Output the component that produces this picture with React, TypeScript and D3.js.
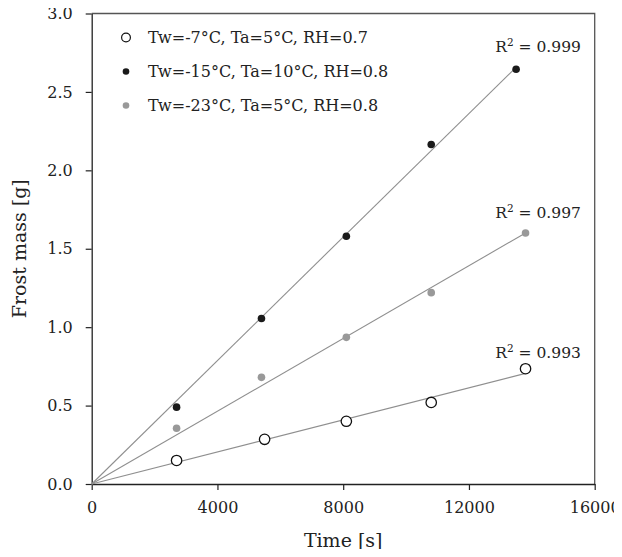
import { useEffect, useRef } from "react";
import * as d3 from "d3";

// time [s] and frost mass [g] per test
const timeOpen = [2700, 5500, 8100, 10800, 13800];
const massOpen = [0.15, 0.285, 0.4, 0.52, 0.735];
const timeBlack = [2700, 5400, 8100, 10800, 13500];
const massBlack = [0.49, 1.055, 1.58, 2.165, 2.645];
const timeGray = [2700, 5400, 8100, 10800, 13800];
const massGray = [0.355, 0.68, 0.935, 1.22, 1.6];

const legendLabels = [
  "Tw=-7°C, Ta=5°C, RH=0.7",
  "Tw=-15°C, Ta=10°C, RH=0.8",
  "Tw=-23°C, Ta=5°C, RH=0.8",
];
const r2Labels = ["0.993", "0.999", "0.997"];
const xTicks = [0, 4000, 8000, 12000, 16000];
const yTicks = [0, 0.5, 1, 1.5, 2, 2.5, 3];

const FONT = "'DejaVu Serif', serif";

const App = () => {
  const svgRef = useRef<SVGSVGElement>(null);

  useEffect(() => {
    const w = 622;
    const h = 557;
    const m = { left: 91.7, right: 27.3, top: 13.5, bottom: 73 };
    const svg = d3.select(svgRef.current);
    svg.selectAll("*").remove();
    svg.attr("width", w).attr("height", h).style("background", "#fff");

    const x = d3.scaleLinear().domain([0, 16000]).range([m.left, w - m.right]);
    const y = d3.scaleLinear().domain([0, 3]).range([h - m.bottom, m.top]);

    // top and right frame
    svg
      .append("path")
      .attr("d", `M${x(0)},${y(3)}H${x(16000)}V${y(0)}`)
      .attr("fill", "none")
      .attr("stroke", "#555")
      .attr("stroke-width", 1.3);

    const xAxis = svg
      .append("g")
      .attr("transform", `translate(0,${y(0)})`)
      .call(d3.axisBottom(x).tickValues(xTicks).tickSize(6).tickSizeOuter(0).tickPadding(12).tickFormat(d3.format("d")));
    const yAxis = svg
      .append("g")
      .attr("transform", `translate(${x(0)},0)`)
      .call(d3.axisLeft(y).tickValues(yTicks).tickSize(6).tickSizeOuter(0).tickPadding(13).tickFormat(d3.format(".1f")));
    [xAxis, yAxis].forEach((g) => {
      g.select(".domain").attr("stroke", "#222").attr("stroke-width", 1.3);
      g.selectAll(".tick line").attr("stroke", "#222").attr("stroke-width", 1.2);
      g.selectAll(".tick text")
        .attr("font-family", FONT)
        .attr("font-size", 16)
        .attr("fill", "#222");
    });

    svg
      .append("text")
      .attr("x", (x(0) + x(16000)) / 2)
      .attr("y", 547)
      .attr("text-anchor", "middle")
      .attr("font-family", FONT)
      .attr("font-size", 19)
      .attr("fill", "#222")
      .text("Time [s]");
    svg
      .append("text")
      .attr("transform", `translate(26,${(y(0) + y(3)) / 2}) rotate(-90)`)
      .attr("text-anchor", "middle")
      .attr("font-family", FONT)
      .attr("font-size", 19)
      .attr("fill", "#222")
      .text("Frost mass [g]");

    const series = [
      { t: timeOpen, m: massOpen, kind: "open" },
      { t: timeBlack, m: massBlack, kind: "black" },
      { t: timeGray, m: massGray, kind: "gray" },
    ];
    const fillOf = (k: string) => (k === "open" ? "#fff" : k === "black" ? "#1a1a1a" : "#999");

    series.forEach((s, si) => {
      // linear trendline through the origin
      const slope = d3.sum(s.t, (t, i) => t * s.m[i]) / d3.sum(s.t, (t) => t * t);
      const tEnd = s.t[s.t.length - 1];
      const line = d3
        .line<number>()
        .x((t) => x(t))
        .y((t) => y(slope * t));
      svg
        .append("path")
        .attr("d", line([0, tEnd]))
        .attr("fill", "none")
        .attr("stroke", "#8f8f8f")
        .attr("stroke-width", 1.1);

      svg
        .append("g")
        .selectAll("circle")
        .data(s.t)
        .join("circle")
        .attr("cx", (t) => x(t))
        .attr("cy", (t, i) => y(s.m[i]))
        .attr("r", s.kind === "open" ? 5.2 : 3.8)
        .attr("fill", fillOf(s.kind))
        .attr("stroke", s.kind === "open" ? "#111" : "none")
        .attr("stroke-width", 1.3);

      const r2 = svg
        .append("text")
        .attr("x", x(14200))
        .attr("y", y(slope * tEnd) - 15)
        .attr("text-anchor", "middle")
        .attr("font-family", FONT)
        .attr("font-size", 15.5)
        .attr("fill", "#222");
      r2.append("tspan").text("R");
      r2.append("tspan").attr("dy", -6).attr("font-size", 10.5).text("2");
      r2.append("tspan").attr("dy", 6).text(` = ${r2Labels[si]}`);

      const ly = 37.5 + si * 34;
      svg
        .append("circle")
        .attr("cx", 126)
        .attr("cy", ly)
        .attr("r", s.kind === "open" ? 4.4 : 3.3)
        .attr("fill", fillOf(s.kind))
        .attr("stroke", s.kind === "open" ? "#111" : "none")
        .attr("stroke-width", 1.2);
      svg
        .append("text")
        .attr("x", 148)
        .attr("y", ly + 5.8)
        .attr("font-family", FONT)
        .attr("font-size", 16)
        .attr("fill", "#222")
        .text(legendLabels[si]);
    });
  }, []);

  return <svg ref={svgRef} style={{ display: "block", margin: "-8px" }} />;
};

export default App;
